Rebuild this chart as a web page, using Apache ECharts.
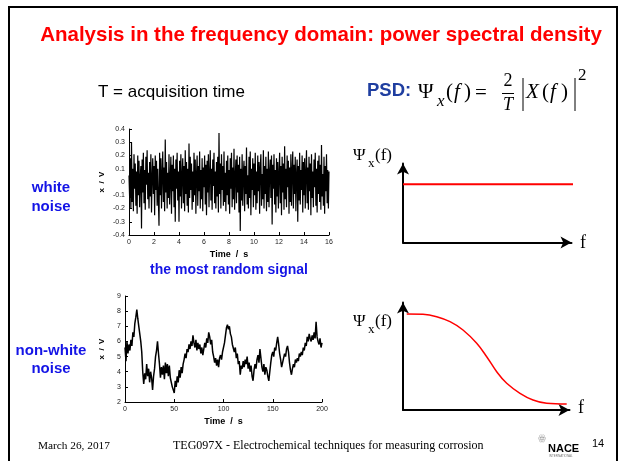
<!DOCTYPE html>
<html>
<head>
<meta charset="utf-8">
<script src="https://cdn.jsdelivr.net/npm/echarts@6/dist/echarts.min.js"></script>
<style>
  html, body { margin: 0; padding: 0; background: #fff; }
  #slide { width: 622px; height: 461px; }
</style>
</head>
<body>
<div id="slide"></div>
<script>
// white noise record, sampled every 0.05 s over 16 s
const whiteTimeStep = 0.05
const whiteNoise = [
  0.05,-0.12,0.18,-0.2,0.3,-0.15,0.1,-0.22,0.21,-0.05,0.14,-0.18,0.08,-0.24,0.2,-0.1,0.16,-0.19,0.04,0.12,
  -0.35,0.17,-0.08,0.22,-0.16,0.09,-0.21,0.19,-0.02,0.24,-0.13,0.07,-0.2,0.15,-0.11,0.21,-0.23,0.03,0.18,-0.09,
  0.12,-0.25,0.2,-0.06,0.16,-0.18,0.1,-0.14,-0.33,0.22,-0.1,0.18,-0.2,0.06,0.23,-0.15,0.11,-0.22,0.32,-0.08,
  0.15,-0.2,0.07,-0.12,0.21,-0.17,0.02,0.19,-0.24,0.13,-0.07,0.2,-0.19,0.1,-0.3,0.17,-0.05,0.22,-0.14,0.08,
  -0.3,0.16,-0.11,0.21,-0.2,0.05,0.18,-0.16,0.12,-0.22,0.24,-0.09,0.15,-0.18,0.1,-0.23,0.29,-0.12,0.19,-0.06,
  0.14,-0.21,0.08,-0.15,0.22,-0.1,0.17,-0.24,0.05,0.2,-0.18,0.12,-0.07,0.23,-0.2,0.09,-0.13,0.18,-0.22,0.11,
  -0.04,0.2,-0.17,0.13,-0.25,0.16,-0.08,0.21,-0.19,0.06,0.24,-0.14,0.1,-0.21,0.17,-0.03,0.22,-0.16,0.08,-0.2,
  0.15,-0.11,0.19,-0.23,0.37,-0.09,0.14,-0.2,0.21,-0.06,0.12,-0.18,0.23,-0.15,0.07,-0.22,0.16,-0.1,0.2,-0.17,
  0.09,-0.24,0.18,-0.05,0.22,-0.19,0.11,-0.13,0.25,-0.21,0.04,0.17,-0.16,0.2,-0.08,0.13,-0.23,0.19,-0.37,0.1,
  -0.14,0.21,-0.18,0.07,0.16,-0.22,0.12,-0.09,0.26,-0.17,0.05,-0.2,0.19,-0.12,0.23,-0.25,0.1,-0.06,0.18,-0.19,
  0.14,-0.1,0.22,-0.21,0.08,-0.16,0.2,-0.07,0.15,-0.24,0.11,0.21,-0.18,0.06,-0.13,0.24,-0.2,0.12,-0.09,0.19,
  -0.22,0.1,-0.15,0.23,-0.19,0.07,0.17,-0.12,0.2,-0.32,0.13,-0.05,0.21,-0.17,0.09,-0.23,0.18,-0.11,0.15,-0.2,
  0.06,0.22,-0.16,0.12,-0.25,0.19,-0.08,0.14,-0.21,0.27,-0.13,0.1,-0.19,0.2,-0.04,0.16,-0.24,0.11,-0.15,0.21,
  -0.18,0.08,0.23,-0.2,0.13,-0.09,0.19,-0.22,0.05,0.17,-0.3,0.12,-0.14,0.22,-0.17,0.09,-0.06,0.2,-0.23,0.15,
  -0.1,0.18,-0.2,0.07,0.24,-0.16,0.11,-0.21,0.19,-0.07,0.14,-0.25,0.21,-0.12,0.08,-0.19,0.17,-0.04,0.22,-0.18,
  0.1,-0.23,0.16,-0.09,0.2,-0.15,0.13,-0.21,0.28,-0.11,0.06,-0.18,0.19,-0.24,0.12,-0.07,0.21,-0.16,0.09,-0.2,
  0.08
]

// non-white noise record, one value per second over 200 s
const colouredNoise = [
  5.6,4.7,6.0,5.2,5.8,5.4,6.1,5.7,6.6,6.3,
  7.2,7.6,8.1,7.5,7.0,6.9,6.0,5.3,4.0,3.2,
  3.9,3.5,4.5,3.7,4.2,3.3,4.0,3.6,2.8,3.7,
  4.2,5.0,5.4,6.0,5.2,4.5,3.6,4.3,3.8,4.4,
  3.5,4.6,3.9,4.5,3.7,4.4,3.6,3.3,3.0,2.8,
  2.6,3.4,3.0,3.7,3.3,4.1,3.6,4.3,3.9,4.5,
  4.8,5.2,4.9,5.5,5.3,5.8,5.5,6.0,5.7,6.4,
  5.9,5.6,6.1,5.4,5.9,5.5,5.8,5.2,5.6,5.1,
  5.5,5.9,5.6,6.2,5.9,6.6,6.3,5.8,6.1,5.3,
  5.0,4.6,4.9,4.4,4.8,4.3,4.9,5.1,4.8,5.3,
  5.2,5.9,6.4,6.9,7.1,6.8,7.0,6.5,6.3,5.8,
  5.9,5.3,5.6,4.9,5.2,4.5,4.7,3.8,4.4,4.2,
  4.7,4.3,4.8,4.5,5.0,4.2,4.6,4.0,4.4,3.7,
  3.4,4.1,4.5,4.2,4.8,5.1,4.6,5.5,4.9,4.3,
  4.0,4.5,3.8,4.3,4.1,3.7,3.4,4.0,4.6,5.1,
  5.3,5.0,5.6,5.4,5.9,6.3,5.8,5.2,4.8,4.3,
  4.6,4.9,5.2,5.0,5.5,5.7,5.3,4.6,4.1,3.8,
  4.2,4.5,4.3,4.8,4.6,4.9,4.7,5.2,5.0,5.3,
  5.1,5.6,5.4,5.9,5.7,6.3,6.0,6.5,6.2,6.0,
  6.4,6.1,6.6,6.2,7.3,6.3,6.0,5.8,6.2,5.6,
  5.9
]

// sketched spectra (arbitrary units)
const flatPsdF = [0, 173.7]
const flatPsd = [58.2, 58.2]
const colouredPsdF = [3.7, 20, 33.7, 47, 60, 73.7, 83.7, 93.7, 103.7, 117, 130, 143.7, 163.7]
const colouredPsd = [96, 95.7, 93.3, 88.3, 80, 66.7, 53.3, 38.3, 26.7, 16.7, 10, 6.7, 6]

const whiteTicksX = [0, 16, 2]
const whiteTicksY = [-0.4, 0.4, 0.1]
const colouredTicksX = [0, 200, 50]
const colouredTicksY = [2, 9, 1]

const SANS = '"Liberation Sans", Arial, sans-serif'
const SERIF = '"Liberation Serif", "Times New Roman", serif'
const BLUE = '#1414e6'
const ARROW_LEN = 11

const pair = (xs, ys) => xs.map((x, i) => [x, ys[i]])

function dataAxis(grid, ticks, name, isY, gap) {
  return {
    type: 'value', gridIndex: grid,
    min: ticks[0], max: ticks[1], interval: ticks[2],
    name: name, nameLocation: 'middle', nameGap: gap, nameRotate: isY ? 90 : 0,
    nameTextStyle: { fontFamily: SANS, fontWeight: 'bold', fontSize: isY ? 8 : 9, color: '#000' },
    axisLine: { show: true, onZero: false, lineStyle: { color: '#000', width: 1 } },
    axisTick: { show: true, inside: true, length: 3, lineStyle: { color: '#000' } },
    axisLabel: { fontFamily: SANS, fontSize: 7, color: '#222', margin: 4 },
    splitLine: { show: false }
  }
}

// axis drawn up to (tip - half arrow), arrow centred on the end point
function sketchAxis(grid, max) {
  return {
    type: 'value', gridIndex: grid, min: 0, max: max,
    axisLine: { show: true, onZero: false, symbol: ['none', 'arrow'], symbolSize: [9, ARROW_LEN],
      lineStyle: { color: '#000', width: 2 } },
    axisTick: { show: false }, axisLabel: { show: false }, splitLine: { show: false }
  }
}

function txt(x, y, text, font, fill, align) {
  return { type: 'text', x: x, y: y, silent: true,
    style: { text: text, font: font, fill: fill || '#000', align: align || 'left', verticalAlign: 'middle' } }
}

const chart = echarts.init(document.getElementById('slide'))

const half = ARROW_LEN / 2
chart.setOption({
  animation: false,
  grid: [
    { left: 129, top: 129, width: 200, height: 106 },
    { left: 125, top: 296, width: 197, height: 106 },
    { left: 403, top: 158 + half, width: 174 - half, height: 84.5 - half },
    { left: 403, top: 297 + half, width: 172 - half, height: 113 - half }
  ],
  xAxis: [
    dataAxis(0, whiteTicksX, 'Time  /  s', false, 15),
    dataAxis(1, colouredTicksX, 'Time  /  s', false, 15),
    sketchAxis(2, 174 - half),
    sketchAxis(3, 172 - half)
  ],
  yAxis: [
    dataAxis(0, whiteTicksY, 'x  /  V', true, 23),
    dataAxis(1, colouredTicksY, 'x  /  V', true, 19),
    sketchAxis(2, 84.5 - half),
    sketchAxis(3, 113 - half)
  ],
  series: [
    { type: 'line', xAxisIndex: 0, yAxisIndex: 0, showSymbol: false, silent: true,
      lineStyle: { color: '#000', width: 1.2 },
      data: whiteNoise.map((v, i) => [i * whiteTimeStep, v]) },
    { type: 'line', xAxisIndex: 1, yAxisIndex: 1, showSymbol: false, silent: true,
      lineStyle: { color: '#000', width: 1.5 },
      data: colouredNoise.map((v, i) => [i, v]) },
    { type: 'line', xAxisIndex: 2, yAxisIndex: 2, showSymbol: false, silent: true, clip: false,
      lineStyle: { color: '#ff0000', width: 2 },
      data: pair(flatPsdF, flatPsd) },
    { type: 'line', xAxisIndex: 3, yAxisIndex: 3, showSymbol: false, silent: true, clip: false, smooth: 0.4,
      lineStyle: { color: '#ff0000', width: 1.5 },
      data: pair(colouredPsdF, colouredPsd) }
  ],
  graphic: [
    // slide frame
    { type: 'polyline', silent: true, shape: { points: [[9, 470], [9, 7], [617, 7], [617, 470]] },
      style: { stroke: '#000', lineWidth: 2, fill: null } },
    txt(321, 35, 'Analysis in the frequency domain: power spectral density', 'bold 20.5px ' + SANS, '#ff0000', 'center'),
    txt(98, 92, 'T = acquisition time', '17px ' + SANS),
    // PSD formula
    txt(367, 91, 'PSD:', 'bold 18.5px ' + SANS, '#1f3ea0'),
    txt(418, 92, 'Ψ', '21px ' + SERIF),
    txt(437, 102, 'x', 'italic 17px ' + SERIF),
    txt(446, 92, '(', '21px ' + SERIF),
    txt(454, 92, 'f', 'italic 21px ' + SERIF),
    txt(464, 92, ')', '21px ' + SERIF),
    txt(475, 93, '=', '21px ' + SERIF),
    txt(508, 81, '2', '18px ' + SERIF, '#000', 'center'),
    { type: 'line', silent: true, shape: { x1: 502, y1: 93.5, x2: 514, y2: 93.5 }, style: { stroke: '#000', lineWidth: 1 } },
    txt(508, 105, 'T', 'italic 18px ' + SERIF, '#000', 'center'),
    { type: 'line', silent: true, shape: { x1: 523, y1: 78, x2: 523, y2: 111 }, style: { stroke: '#000', lineWidth: 1 } },
    txt(526, 92, 'X', 'italic 21px ' + SERIF),
    txt(542, 92, '(', '21px ' + SERIF),
    txt(550, 92, 'f', 'italic 21px ' + SERIF),
    txt(561, 92, ')', '21px ' + SERIF),
    { type: 'line', silent: true, shape: { x1: 575, y1: 78, x2: 575, y2: 111 }, style: { stroke: '#000', lineWidth: 1 } },
    txt(578, 76, '2', '17px ' + SERIF),
    // row labels
    txt(51, 188, 'white', 'bold 15px ' + SANS, BLUE, 'center'),
    txt(51, 207, 'noise', 'bold 15px ' + SANS, BLUE, 'center'),
    txt(229, 270, 'the most random signal', 'bold 14px ' + SANS, BLUE, 'center'),
    txt(51, 351, 'non-white', 'bold 15px ' + SANS, BLUE, 'center'),
    txt(51, 369, 'noise', 'bold 15px ' + SANS, BLUE, 'center'),
    // sketch labels
    txt(353, 156, 'Ψ', '17px ' + SERIF),
    txt(368, 164, 'x', '13px ' + SERIF),
    txt(375, 156, '(f)', '17px ' + SERIF),
    txt(580, 243, 'f', '18px ' + SERIF),
    txt(353, 322, 'Ψ', '17px ' + SERIF),
    txt(368, 330, 'x', '13px ' + SERIF),
    txt(375, 322, '(f)', '17px ' + SERIF),
    txt(578, 408, 'f', '18px ' + SERIF),
    // footer
    txt(38, 446, 'March 26, 2017', '11.3px ' + SERIF),
    txt(173, 446, 'TEG097X - Electrochemical techniques for measuring corrosion', '12px ' + SERIF),
    txt(538, 439, 'ꙮ', '9px ' + SANS, '#888'),
    txt(548, 449, 'NACE', 'bold 11px ' + SANS),
    txt(549, 456, 'INTERNATIONAL', '3px ' + SANS, '#777'),
    txt(592, 444, '14', '11px ' + SANS)
  ]
})
</script>
</body>
</html>
